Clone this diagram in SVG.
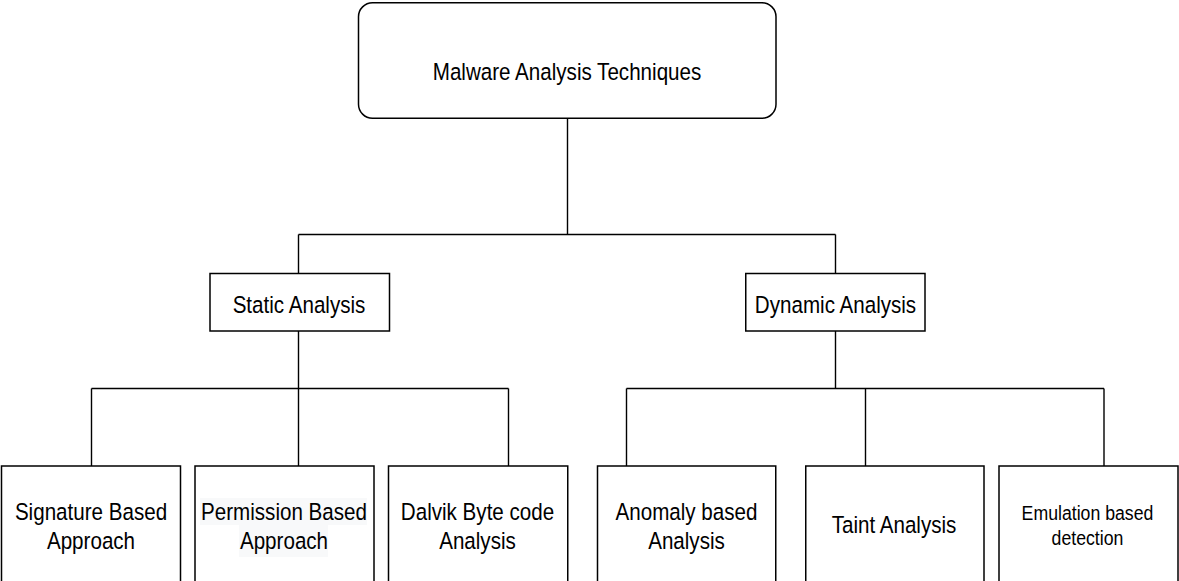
<svg xmlns="http://www.w3.org/2000/svg" width="1179" height="581" viewBox="0 0 1179 581">
<style>
.box{fill:#ffffff;stroke:#000000;stroke-width:1.5}
.edge{fill:none;stroke:#000000;stroke-width:1.4}
.t{font-family:"Liberation Sans",Arial,Helvetica,sans-serif;font-size:20.6px;fill:#000000;text-anchor:middle}
.ts{font-size:17.7px}
.hl{fill:#f8f9fa}
</style>
<rect width="1179" height="581" fill="#ffffff"/>
<g id="connectors">
<path class="edge" d="M567.5 118.5 V234.5 M298.5 234.5 H835.5 M298.5 234.5 V273.5 M835.5 234.5 V273.5"/>
<path class="edge" d="M298.5 331 V388.5 M91.5 388.5 H508.5 M91.5 388.5 V466 M298.5 388.5 V466 M508.5 388.5 V466"/>
<path class="edge" d="M835.5 331 V388.5 M626.5 388.5 H1104 M626.5 388.5 V466 M865.5 388.5 V466 M1104 388.5 V466"/>
</g>
<g id="root">
<rect class="box" x="358.5" y="2.75" width="417.5" height="115.5" rx="14" ry="14"/>
<text class="t" transform="translate(567,80) scale(1,1.17)">Malware Analysis Techniques</text>
</g>
<g id="static">
<rect class="box" x="210" y="273.5" width="179.5" height="57.5"/>
<text class="t" transform="translate(299,312.7) scale(1,1.17)">Static Analysis</text>
</g>
<g id="dynamic">
<rect class="box" x="745.75" y="273.5" width="179.25" height="57.5"/>
<text class="t" transform="translate(835.5,312.7) scale(1,1.17)">Dynamic Analysis</text>
</g>
<g id="signature">
<rect class="box" x="1.5" y="466" width="179" height="130"/>
<text class="t" transform="translate(91,520) scale(1,1.17)"><tspan x="0" y="0">Signature Based</tspan><tspan x="0" dy="24.4">Approach</tspan></text>
</g>
<g id="permission">
<rect class="box" x="195" y="466" width="179" height="130"/>
<rect class="hl" x="200" y="498" width="167" height="27"/>
<rect class="hl" x="239" y="525" width="89" height="32"/>
<text class="t" transform="translate(284,520) scale(1,1.17)"><tspan x="0" y="0">Permission Based</tspan><tspan x="0" dy="24.4">Approach</tspan></text>
</g>
<g id="dalvik">
<rect class="box" x="388.5" y="466" width="179.25" height="130"/>
<text class="t" transform="translate(477.5,520) scale(1,1.17)"><tspan x="0" y="0">Dalvik Byte code</tspan><tspan x="0" dy="24.4">Analysis</tspan></text>
</g>
<g id="anomaly">
<rect class="box" x="597.5" y="466" width="178.25" height="130"/>
<text class="t" transform="translate(686.5,520) scale(1,1.17)"><tspan x="0" y="0">Anomaly based</tspan><tspan x="0" dy="24.4">Analysis</tspan></text>
</g>
<g id="taint">
<rect class="box" x="805.75" y="466" width="178.25" height="130"/>
<text class="t" transform="translate(894,533.3) scale(1,1.17)">Taint Analysis</text>
</g>
<g id="emulation">
<rect class="box" x="999" y="466" width="179" height="130"/>
<text class="t ts" transform="translate(1087.5,520) scale(1,1.15)"><tspan x="0" y="0">Emulation based</tspan><tspan x="0" dy="21.7">detection</tspan></text>
</g>
</svg>
